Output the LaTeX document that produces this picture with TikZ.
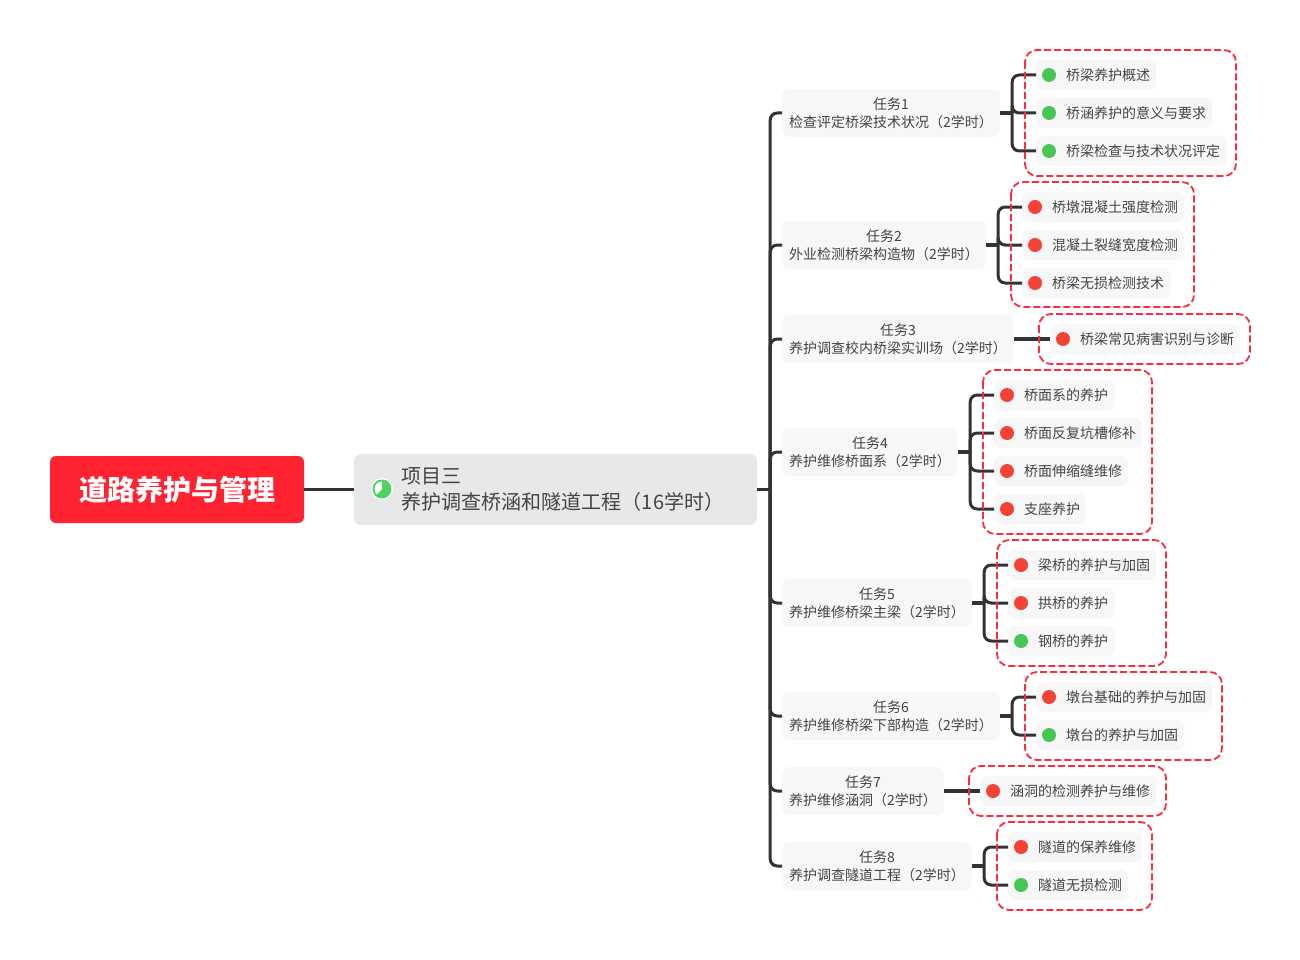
\documentclass[tikz,border=0pt]{standalone}
\usepackage{fontspec}
\setmainfont{Noto Sans CJK SC}
\usetikzlibrary{calc}
\definecolor{redbrand}{HTML}{FF2230}
\definecolor{dashred}{HTML}{FF2A3C}
\definecolor{inkc}{HTML}{444444}
\definecolor{linkc}{HTML}{333333}
\definecolor{boxg}{HTML}{F7F7F7}
\definecolor{projg}{HTML}{E8E8E8}
\definecolor{gdot}{HTML}{45C655}
\definecolor{rdot}{HTML}{F44336}
\definecolor{pieg}{HTML}{4FD15F}
\tikzset{
  rootbox/.style={fill=redbrand,rounded corners=6pt,text=white,font=\fontsize{28pt}{32pt}\selectfont\bfseries,minimum width=254pt,minimum height=67pt,inner sep=0pt},
  projbox/.style={fill=projg,rounded corners=7pt,text=inkc,font=\fontsize{20pt}{26pt}\selectfont,align=left,minimum width=403pt,minimum height=71pt,inner xsep=0pt,inner ysep=0pt},
  taskbox/.style={fill=boxg,rounded corners=7pt,text=inkc,font=\fontsize{14pt}{18pt}\selectfont,align=center,minimum height=48pt,inner xsep=7pt,inner ysep=0pt,anchor=west},
  leafbox/.style={fill=boxg,rounded corners=6pt,text=inkc,font=\fontsize{14pt}{18pt}\selectfont,minimum height=30pt,inner xsep=6pt,inner ysep=0pt,anchor=west},
  dotnode/.style={circle,minimum size=14pt,inner sep=0pt},
  link/.style={draw=linkc,line width=3pt,rounded corners=7pt},
  stub/.style={draw=linkc,line width=3.4pt},
  dashbox/.style={draw=dashred,line width=1.8pt,rounded corners=12pt,dash pattern=on 7pt off 3pt},
}
\newcommand{\leafitem}[5]{%
  \node[leafbox] (#1) at (#2,#3) {\hspace*{24pt}#5};
  \node[dotnode,fill=#4] (#1d) at ($(#1.west)+(13,0)$) {};
}
\newcommand{\fork}[2]{\draw[link] ($(#1.east)+(12,0)$) |- (#2.west);}
\begin{document}
\begin{tikzpicture}[x=1pt,y=-1pt]
\useasboundingbox (0,0) rectangle (1300,960);
\node[rootbox] (root) at (177,489.5) {道路养护与管理};
\node[projbox] (proj) at (555.5,489.5) {\hspace*{15pt}项目三\\\hspace*{15pt}养护调查桥涵和隧道工程（16学时）};
\node[circle,fill=white,minimum size=22pt,inner sep=0pt] (pie) at (382,489) {};
\node[circle,fill=pieg,minimum size=19pt,inner sep=0pt] (pied) at (382,489) {};
\fill[white] (pie.center) -- ($(pie.center)+(90:7.5pt)$) arc[start angle=90,end angle=225,radius=7.5pt] -- cycle;

\node[taskbox] (t1) at (782,113) {任务1\\检查评定桥梁技术状况（2学时）};
\node[taskbox] (t2) at (782,245) {任务2\\外业检测桥梁构造物（2学时）};
\node[taskbox] (t3) at (782,339) {任务3\\养护调查校内桥梁实训场（2学时）};
\node[taskbox] (t4) at (782,452) {任务4\\养护维修桥面系（2学时）};
\node[taskbox] (t5) at (782,603) {任务5\\养护维修桥梁主梁（2学时）};
\node[taskbox] (t6) at (782,716) {任务6\\养护维修桥梁下部构造（2学时）};
\node[taskbox] (t7) at (782,791) {任务7\\养护维修涵洞（2学时）};
\node[taskbox] (t8) at (782,866) {任务8\\养护调查隧道工程（2学时）};

\leafitem{a1}{1036}{75}{gdot}{桥梁养护概述}
\leafitem{a2}{1036}{113}{gdot}{桥涵养护的意义与要求}
\leafitem{a3}{1036}{151}{gdot}{桥梁检查与技术状况评定}
\leafitem{b1}{1022}{207}{rdot}{桥墩混凝土强度检测}
\leafitem{b2}{1022}{245}{rdot}{混凝土裂缝宽度检测}
\leafitem{b3}{1022}{283}{rdot}{桥梁无损检测技术}
\leafitem{c1}{1050}{339}{rdot}{桥梁常见病害识别与诊断}
\leafitem{d1}{994}{395}{rdot}{桥面系的养护}
\leafitem{d2}{994}{433}{rdot}{桥面反复坑槽修补}
\leafitem{d3}{994}{471}{rdot}{桥面伸缩缝维修}
\leafitem{d4}{994}{509}{rdot}{支座养护}
\leafitem{e1}{1008}{565}{rdot}{梁桥的养护与加固}
\leafitem{e2}{1008}{603}{rdot}{拱桥的养护}
\leafitem{e3}{1008}{641}{gdot}{钢桥的养护}
\leafitem{f1}{1036}{697}{rdot}{墩台基础的养护与加固}
\leafitem{f2}{1036}{735}{gdot}{墩台的养护与加固}
\leafitem{g1}{980}{791}{rdot}{涵洞的检测养护与维修}
\leafitem{h1}{1008}{847}{rdot}{隧道的保养维修}
\leafitem{h2}{1008}{885}{gdot}{隧道无损检测}

\draw[stub] (root.east) -- (proj.west);
\draw[stub] (proj.east) -- ($(proj.east)+(13,0)$);
\foreach \t in {t1,t2,t3,t4,t5,t6,t7,t8}{\draw[link] ($(proj.east)+(13,0)$) |- (\t.west);}
\draw[stub] (t1.east) -- ($(t1.east)+(12,0)$);
\draw[stub] (t2.east) -- ($(t2.east)+(12,0)$);
\draw[stub] (t4.east) -- ($(t4.east)+(12,0)$);
\draw[stub] (t5.east) -- ($(t5.east)+(12,0)$);
\draw[stub] (t6.east) -- ($(t6.east)+(12,0)$);
\draw[stub] (t8.east) -- ($(t8.east)+(12,0)$);
\foreach \l in {a1,a2,a3}{\fork{t1}{\l}}
\foreach \l in {b1,b2,b3}{\fork{t2}{\l}}
\draw[stub] (t3.east) -- (c1.west);
\foreach \l in {d1,d2,d3,d4}{\fork{t4}{\l}}
\foreach \l in {e1,e2,e3}{\fork{t5}{\l}}
\foreach \l in {f1,f2}{\fork{t6}{\l}}
\draw[stub] (t7.east) -- (g1.west);
\foreach \l in {h1,h2}{\fork{t8}{\l}}

\draw[dashbox] (1025,50) rectangle (1236,176);
\draw[dashbox] (1011,182) rectangle (1194,307);
\draw[dashbox] (1039,314) rectangle (1250,364);
\draw[dashbox] (983,370) rectangle (1152,534);
\draw[dashbox] (997,540) rectangle (1166,666);
\draw[dashbox] (1025,672) rectangle (1222,760);
\draw[dashbox] (969,766) rectangle (1166,816);
\draw[dashbox] (997,822) rectangle (1152,910);
\end{tikzpicture}
\end{document}
